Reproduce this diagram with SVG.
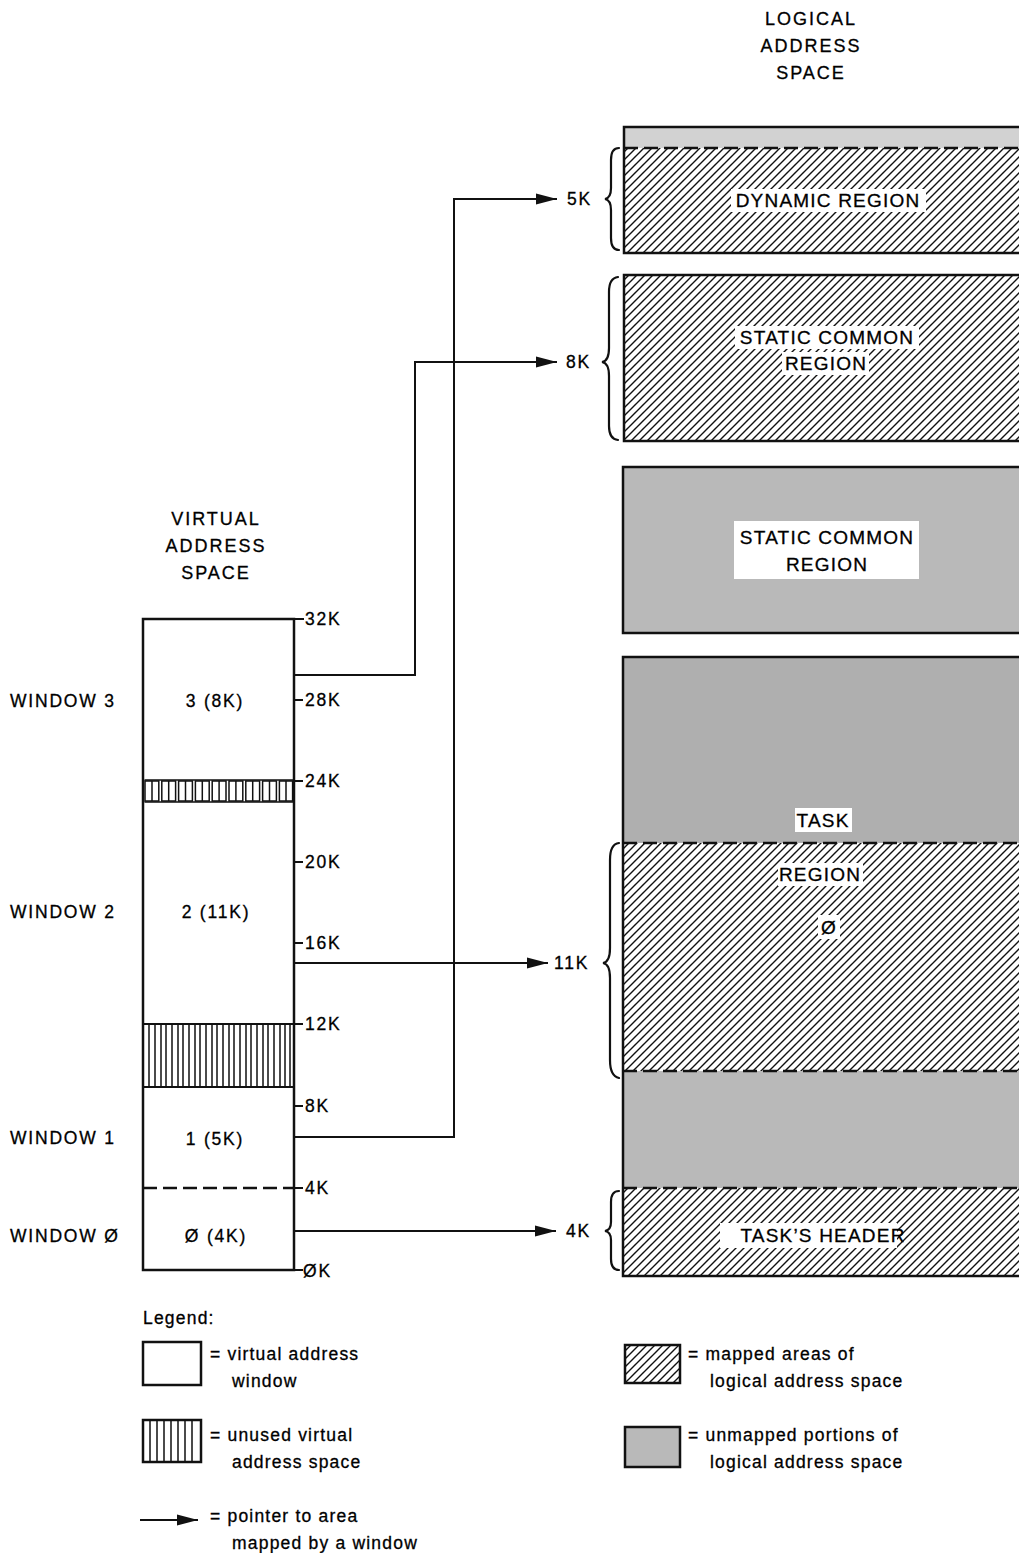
<svg xmlns="http://www.w3.org/2000/svg" width="1019" height="1553" viewBox="0 0 1019 1553">
<style>
text{font-family:"Liberation Sans",Arial,sans-serif;fill:#000;stroke:#000;stroke-width:0.3}
.cap{font-size:17.5px;letter-spacing:1.8px}
.hd{font-size:18px;letter-spacing:2px}
.bx{font-size:19px;letter-spacing:1.2px}
.lc{font-size:17.5px;letter-spacing:1.2px}
.ol{fill:none;stroke:#111;stroke-width:2.5}
.ln{fill:none;stroke:#111;stroke-width:2}
.dash{fill:none;stroke:#111;stroke-width:2.5;stroke-dasharray:14 6}
.thin{fill:none;stroke:#111;stroke-width:1.5}
.gray{fill:#b9b9b9}
.grayl{fill:#d2d2d2}
.grayd{fill:#afafaf}
.wb{fill:#fff}
.br{fill:none;stroke:#111;stroke-width:2.2;stroke-linecap:round}
</style>
<defs>
<pattern id="hatch" patternUnits="userSpaceOnUse" width="8" height="8">
<rect width="8" height="8" fill="#fff"/>
<path d="M-2,2 L2,-2 M0,8 L8,0 M6,10 L10,6" stroke="#111" stroke-width="1.4"/>
</pattern>
<marker id="arr" markerUnits="userSpaceOnUse" markerWidth="22" markerHeight="12" refX="21" refY="6" orient="auto">
<path d="M0,0.5 L21,6 L0,11.5 Z" fill="#111"/>
</marker>
</defs>
<rect width="1019" height="1553" fill="#fff"/>

<!-- headers -->
<g id="hdr-logical">
<text class="hd" x="811" y="25" text-anchor="middle">LOGICAL</text>
<text class="hd" x="811" y="52" text-anchor="middle">ADDRESS</text>
<text class="hd" x="811" y="79" text-anchor="middle">SPACE</text>
</g>
<g id="hdr-virtual">
<text class="hd" x="216" y="525" text-anchor="middle">VIRTUAL</text>
<text class="hd" x="216" y="552" text-anchor="middle">ADDRESS</text>
<text class="hd" x="216" y="579" text-anchor="middle">SPACE</text>
</g>

<!-- virtual address space -->
<g id="virtual-space">
<g id="stripe-24k">
<path class="thin" d="M144.5 780 H294 M144.5 802 H294"/>
<g class="thin">
<rect x="145" y="781" width="13.8" height="20"/><line x1="152" y1="781" x2="152" y2="801"/>
<rect x="161.8" y="781" width="13.8" height="20"/><line x1="168.7" y1="781" x2="168.7" y2="801"/>
<rect x="178.6" y="781" width="13.8" height="20"/><line x1="185.5" y1="781" x2="185.5" y2="801"/>
<rect x="195.4" y="781" width="13.8" height="20"/><line x1="202.3" y1="781" x2="202.3" y2="801"/>
<rect x="212.2" y="781" width="13.8" height="20"/><line x1="219.1" y1="781" x2="219.1" y2="801"/>
<rect x="229" y="781" width="13.8" height="20"/><line x1="235.9" y1="781" x2="235.9" y2="801"/>
<rect x="245.8" y="781" width="13.8" height="20"/><line x1="252.7" y1="781" x2="252.7" y2="801"/>
<rect x="262.6" y="781" width="13.8" height="20"/><line x1="269.5" y1="781" x2="269.5" y2="801"/>
<rect x="279.4" y="781" width="13.2" height="20"/><line x1="286" y1="781" x2="286" y2="801"/>
</g>
</g>
<g id="stripe-12k">
<path class="ln" d="M143 1024 H294 M143 1087 H294"/>
<path class="thin" d="M149 1024V1087M155 1024V1087M161 1024V1087M166 1024V1087M172 1024V1087M178 1024V1087M183 1024V1087M189 1024V1087M195 1024V1087M200 1024V1087M206 1024V1087M212 1024V1087M217 1024V1087M223 1024V1087M229 1024V1087M234 1024V1087M240 1024V1087M246 1024V1087M251 1024V1087M257 1024V1087M263 1024V1087M268 1024V1087M274 1024V1087M280 1024V1087M285 1024V1087M290 1024V1087"/>
</g>
<line class="dash" x1="143" y1="1188" x2="294" y2="1188"/>
<rect class="ol" x="143" y="619" width="151" height="651"/>
<path class="ln" d="M294 619H304M294 700H303M294 781H303M294 862H303M294 943H303M294 1024H303M294 1106H303M294 1188H303M294 1270H303"/>
<text class="cap" x="305" y="625">32K</text>
<text class="cap" x="305" y="706">28K</text>
<text class="cap" x="305" y="787">24K</text>
<text class="cap" x="305" y="868">20K</text>
<text class="cap" x="305" y="949">16K</text>
<text class="cap" x="305" y="1030">12K</text>
<text class="cap" x="305" y="1112">8K</text>
<text class="cap" x="305" y="1194">4K</text>
<text class="cap" x="303" y="1277">ØK</text>
</g>

<g id="window3">
<text class="cap" x="10" y="707">WINDOW 3</text>
<text class="cap" x="215" y="707" text-anchor="middle">3 (8K)</text>
</g>
<g id="window2">
<text class="cap" x="10" y="918">WINDOW 2</text>
<text class="cap" x="216" y="918" text-anchor="middle">2 (11K)</text>
</g>
<g id="window1">
<text class="cap" x="10" y="1144">WINDOW 1</text>
<text class="cap" x="215" y="1145" text-anchor="middle">1 (5K)</text>
</g>
<g id="window0">
<text class="cap" x="10" y="1242">WINDOW Ø</text>
<text class="cap" x="216" y="1242" text-anchor="middle">Ø (4K)</text>
</g>

<!-- logical address space -->
<g id="dynamic-region">
<rect class="grayl" x="624" y="127" width="400" height="21"/>
<rect x="624" y="148" width="400" height="105" fill="url(#hatch)"/>
<line class="dash" x1="624" y1="148" x2="1019" y2="148"/>
<rect class="ol" x="624" y="127" width="400" height="126"/>
<rect class="wb" x="731" y="189" width="195" height="23"/>
<text class="bx" x="828" y="207" text-anchor="middle">DYNAMIC REGION</text>
</g>
<g id="static-common-mapped">
<rect x="624" y="275" width="400" height="166" fill="url(#hatch)"/>
<rect class="ol" x="624" y="275" width="400" height="166"/>
<rect class="wb" x="735" y="326" width="184" height="23"/>
<rect class="wb" x="782" y="352" width="87" height="23"/>
<text class="bx" x="827" y="344" text-anchor="middle">STATIC COMMON</text>
<text class="bx" x="826" y="370" text-anchor="middle">REGION</text>
</g>
<g id="static-common-unmapped">
<rect class="gray" x="623" y="467" width="400" height="166"/>
<rect class="ol" x="623" y="467" width="400" height="166"/>
<rect class="wb" x="734" y="521" width="185" height="58"/>
<text class="bx" x="827" y="544" text-anchor="middle">STATIC COMMON</text>
<text class="bx" x="827" y="571" text-anchor="middle">REGION</text>
</g>
<g id="task-region">
<rect class="grayd" x="623" y="657" width="400" height="186"/>
<rect x="623" y="843" width="400" height="228" fill="url(#hatch)"/>
<rect class="gray" x="623" y="1071" width="400" height="117"/>
<rect x="623" y="1188" width="400" height="88" fill="url(#hatch)"/>
<line class="dash" x1="623" y1="843" x2="1019" y2="843"/>
<line class="dash" x1="623" y1="1071" x2="1019" y2="1071"/>
<line class="dash" x1="623" y1="1188" x2="1019" y2="1188"/>
<rect class="ol" x="623" y="657" width="400" height="619"/>
<rect class="wb" x="795" y="808" width="57" height="24"/>
<text class="bx" x="823" y="827" text-anchor="middle">TASK</text>
<rect class="wb" x="778" y="863" width="85" height="23"/>
<text class="bx" x="820" y="881" text-anchor="middle">REGION</text>
<rect class="wb" x="818" y="915" width="22" height="24"/>
<text class="bx" x="829" y="934" text-anchor="middle">Ø</text>
<rect class="wb" x="720" y="1223" width="177" height="25"/>
<text class="bx" x="823" y="1242" text-anchor="middle">TASK’S HEADER</text>
</g>

<!-- braces and size labels -->
<g id="brace-5k">
<path class="br" d="M619 148 Q611 148 611 160 L611 188 Q611 198 605 199 Q611 200 611 210 L611 238 Q611 250 619 250"/>
<text class="cap" x="567" y="205">5K</text>
</g>
<g id="brace-8k">
<path class="br" d="M618 277 Q609 278 609 292 L609 348 Q609 361 602 362 Q609 363 609 376 L609 426 Q609 439 618 440"/>
<text class="cap" x="566" y="368">8K</text>
</g>
<g id="brace-11k">
<path class="br" d="M619 843 Q610 844 610 860 L610 948 Q610 962 603 963 Q610 964 610 978 L610 1060 Q610 1076 619 1078"/>
<text class="cap" x="554" y="969">11K</text>
</g>
<g id="brace-4k">
<path class="br" d="M619 1191 Q611 1191 611 1202 L611 1222 Q611 1230 605 1231 Q611 1232 611 1240 L611 1259 Q611 1270 619 1270"/>
<text class="cap" x="566" y="1237">4K</text>
</g>

<!-- connectors -->
<g id="connectors">
<path class="ln" d="M294 675 H415 V362 H557" marker-end="url(#arr)"/>
<path class="ln" d="M294 1137 H454 V199 H557" marker-end="url(#arr)"/>
<path class="ln" d="M294 963 H548" marker-end="url(#arr)"/>
<path class="ln" d="M294 1231 H556" marker-end="url(#arr)"/>
</g>

<!-- legend -->
<g id="legend">
<text class="lc" x="143" y="1324">Legend:</text>
<g id="legend-window">
<rect class="ol" x="143" y="1342" width="58" height="43"/>
<text class="lc" x="210" y="1360">=  virtual address</text>
<text class="lc" x="232" y="1387">window</text>
</g>
<g id="legend-unused">
<rect class="ol" x="143" y="1420" width="58" height="42"/>
<path class="thin" d="M150 1420V1462M157 1420V1462M164 1420V1462M171 1420V1462M178 1420V1462M185 1420V1462M192 1420V1462"/>
<text class="lc" x="210" y="1441">=  unused virtual</text>
<text class="lc" x="232" y="1468">address space</text>
</g>
<g id="legend-pointer">
<line class="ln" x1="140" y1="1520" x2="198" y2="1520" marker-end="url(#arr)"/>
<text class="lc" x="210" y="1522">=  pointer to area</text>
<text class="lc" x="232" y="1549">mapped by a window</text>
</g>
<g id="legend-mapped">
<rect x="625" y="1345" width="55" height="38" fill="url(#hatch)"/>
<rect class="ol" x="625" y="1345" width="55" height="38"/>
<text class="lc" x="688" y="1360">=  mapped areas of</text>
<text class="lc" x="710" y="1387">logical address space</text>
</g>
<g id="legend-unmapped">
<rect class="gray" x="625" y="1427" width="55" height="40"/>
<rect class="ol" x="625" y="1427" width="55" height="40"/>
<text class="lc" x="688" y="1441">=  unmapped portions of</text>
<text class="lc" x="710" y="1468">logical address space</text>
</g>
</g>
</svg>
